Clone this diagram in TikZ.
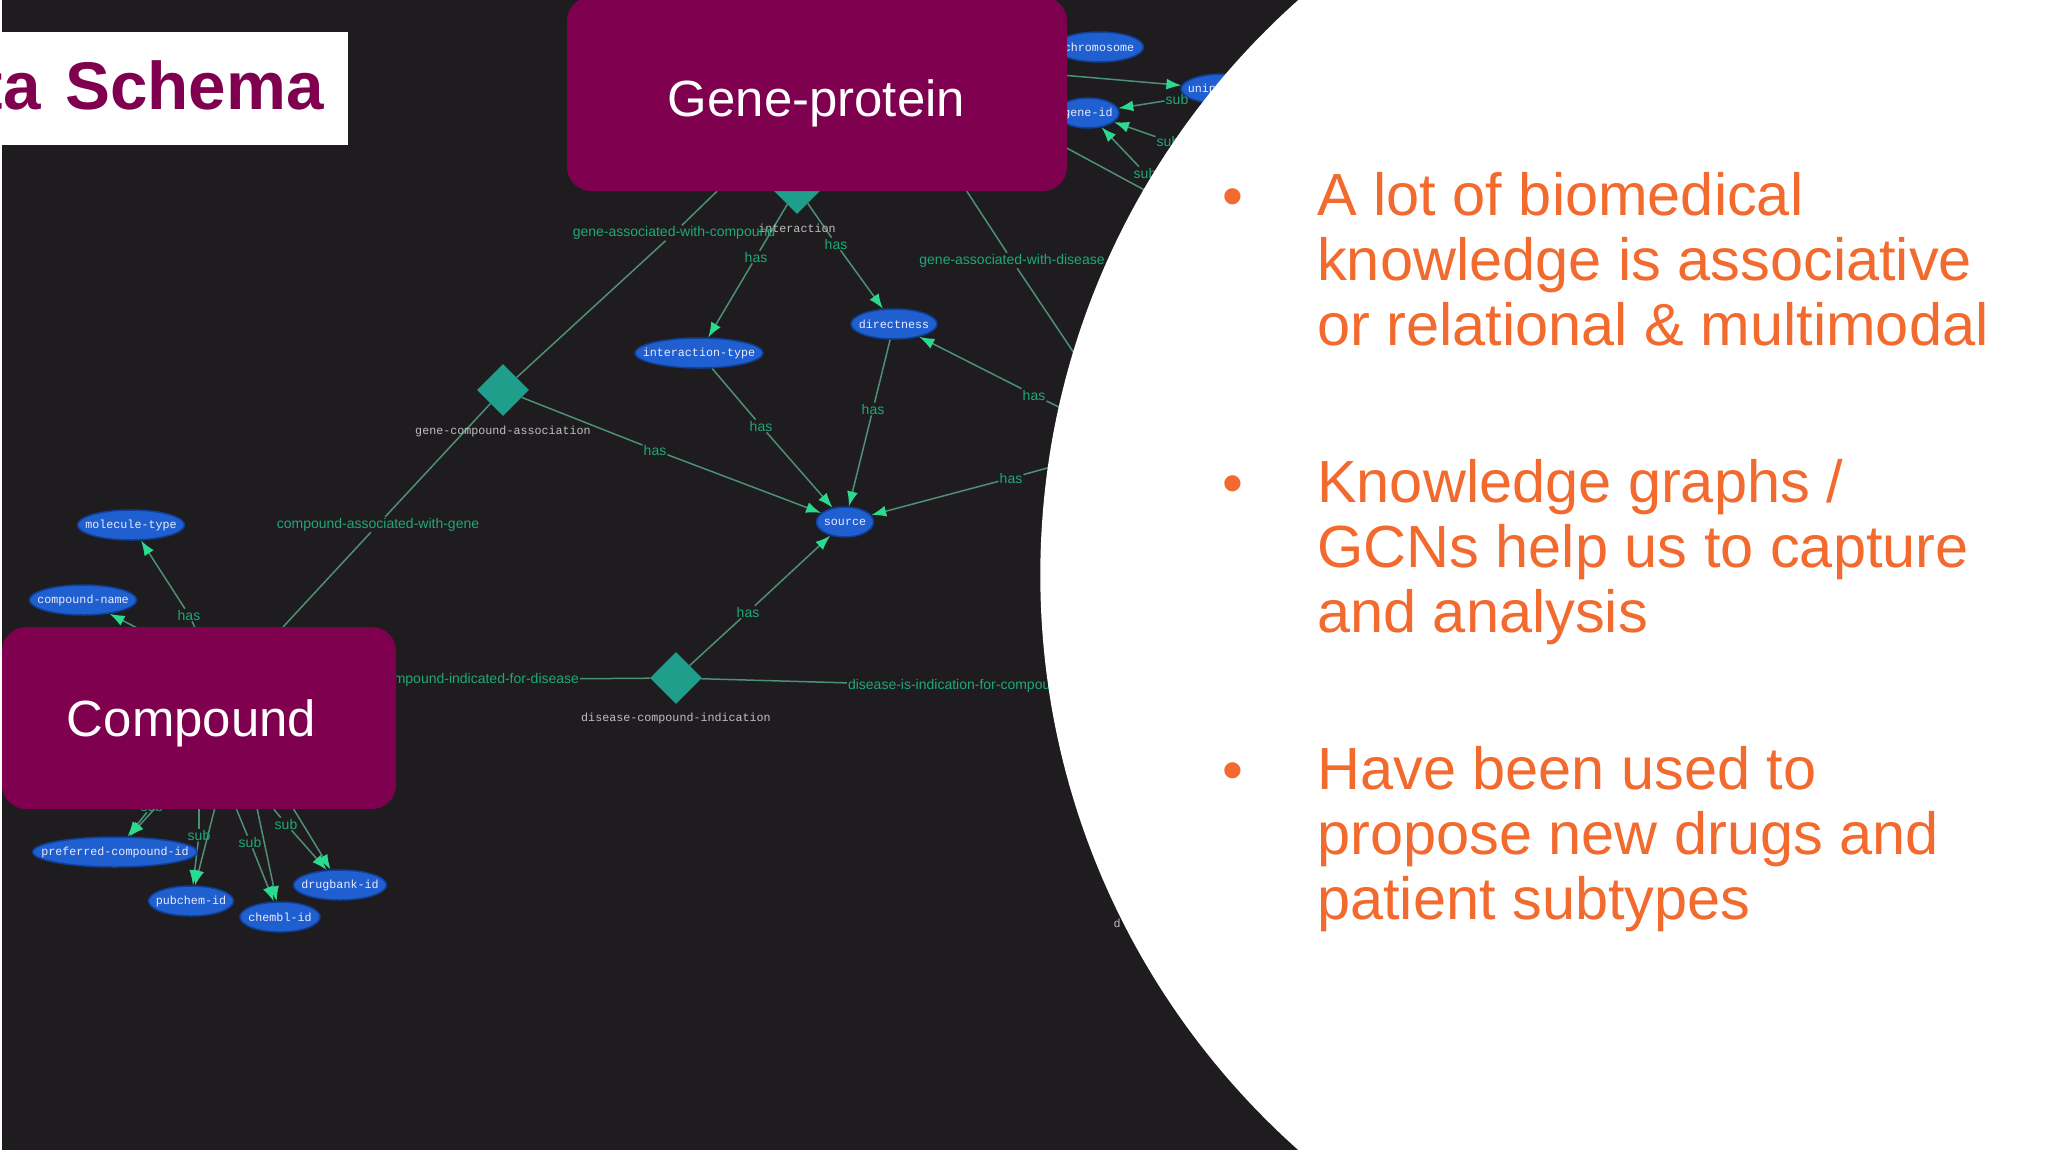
\documentclass[tikz,border=0pt]{standalone}
\usepackage{fontspec}
\setmainfont{Liberation Sans}
\setmonofont{Liberation Mono}
\usetikzlibrary{shapes.geometric,arrows.meta,backgrounds}
\definecolor{slate}{HTML}{1E1C1F}
\definecolor{maroon}{HTML}{7F004F}
\definecolor{oval}{HTML}{1F5FCF}
\definecolor{ovalrim}{HTML}{0F3F96}
\definecolor{teal}{HTML}{1F9E8C}
\definecolor{wire}{HTML}{4E8F77}
\definecolor{tipgreen}{HTML}{2BD98F}
\definecolor{tagtext}{HTML}{1FA878}
\definecolor{orangetext}{HTML}{F26A2E}
\newcommand{\ovaltext}[1]{\makebox[0pt]{#1}}

\begin{document}
\begin{tikzpicture} [x=1pt, y=-1pt,
	attr/.style={ellipse, draw=ovalrim, line width=1.5pt, fill=oval, text=blue!8, inner sep=0pt,
		minimum height=30pt, font=\ttfamily\fontsize{11.7}{12}\selectfont},
	rel/.style={diamond, fill=teal, inner sep=0pt, minimum width=52pt, minimum height=52pt},
	relname/.style={text=white!75!black, inner sep=0pt, font=\ttfamily\fontsize{11.7}{12}\selectfont},
	tag/.style={text=tagtext, inner sep=1pt, font=\fontsize{14}{15}\selectfont},
	entity/.style={rectangle, rounded corners=24pt, fill=maroon, inner sep=0pt},
	entityname/.style={text=white, inner sep=0pt, font=\fontsize{50.9}{55}\selectfont},
	linkline/.style={draw=wire, line width=1.5pt},
	linkarrow/.style={linkline, -{Latex[length=15pt,width=11pt,color=tipgreen]}},
	point/.style={anchor=base west, text=orangetext, inner sep=0pt, align=left,
		font=\fontsize{59.5}{64.7}\selectfont}]
	\useasboundingbox (0,0) rectangle (2048,1152);

	\node[attr, minimum width=107pt] (moltype) at (131,525) {\ovaltext{molecule-type}};
	\node[attr, minimum width=107pt] (cmpname) at (83,600) {\ovaltext{compound-name}};
	\node[attr, minimum width=165pt] (prefid) at (115,852) {\ovaltext{preferred-compound-id}};
	\node[attr, minimum width=85pt] (pubid) at (191,901) {\ovaltext{pubchem-id}};
	\node[attr, minimum width=80pt] (chemblid) at (280,917) {\ovaltext{chembl-id}};
	\node[attr, minimum width=93pt] (drugid) at (340,885) {\ovaltext{drugbank-id}};
	\node[attr, minimum width=128pt] (itype) at (699,353) {\ovaltext{interaction-type}};
	\node[attr, minimum width=86pt] (direct) at (894,324) {\ovaltext{directness}};
	\node[attr, minimum width=57pt] (source) at (845,522) {\ovaltext{source}};
	\node[attr, minimum width=89pt] (chromo) at (1099,47) {\ovaltext{chromosome}};
	\node[attr, minimum width=62pt] (geneid) at (1088,113) {\ovaltext{gene-id}};
	\node[attr, minimum width=84pt] (uniprot) at (1223,89) {\ovaltext{uniprot-id}};

	\node[rel] (gcassoc) at (503,390) {};
	\node[rel] (dcind) at (676,678) {};
	\node[rel] (inter) at (797,188) {};
	\node[relname] at (503,431) {gene-compound-association};
	\node[relname] at (676,718) {disease-compound-indication};
	\node[relname] at (797,228) {interaction};
	\node[relname] at (1117,923) {d};

	\node[tag] (gacomp) at (674,233) {gene-associated-with-compound};
	\node[tag] (gadis) at (1012,260.5) {gene-associated-with-disease};
	\node[tag] (cagene) at (378,524.5) {compound-associated-with-gene};
	\node[tag] (cidis) at (479,679.5) {compound-indicated-for-disease};
	\node[tag] (diind) at (957,686) {disease-is-indication-for-compound};

	\node[tag] (has1) at (189,615) {has};
	\node[tag] (has2) at (756,257) {has};
	\node[tag] (has3) at (836,244) {has};
	\node[tag] (has4) at (655,450) {has};
	\node[tag] (has5) at (761,426) {has};
	\node[tag] (has6) at (873,409) {has};
	\node[tag] (has7) at (1034,395) {has};
	\node[tag] (has8) at (1011,478) {has};
	\node[tag] (has9) at (748,612) {has};
	\node[tag] (sub1) at (152,806) {sub};
	\node[tag] (sub2) at (199,835) {sub};
	\node[tag] (sub3) at (250,842) {sub};
	\node[tag] (sub4) at (286,824) {sub};
	\node[tag] (sub5) at (1177,99) {sub};
	\node[tag] (sub6) at (1168,141) {sub};
	\node[tag] (sub7) at (1145,173) {sub};

	\node[entity, minimum width=500pt, minimum height=194pt] (gene) at (817,94) {};
	\node[entity, minimum width=394pt, minimum height=182pt] (compound) at (199,718) {};
	\node[entityname] (genename) at (816.5,103) {Gene-protein};
	\node[entityname] (compoundname) at (191.5,723) {Compound};

	\coordinate (cmpb) at (238,718);
	\coordinate (cmpc) at (172,646);
	\coordinate (cmpd) at (300,678);
	\coordinate (geneb) at (906,98);
	\coordinate (geneu) at (900,61);
	\coordinate (genes) at (950,85);
	\coordinate (disa) at (1200,426);
	\coordinate (disb) at (1200,475);
	\coordinate (disc) at (1300,274);
	\coordinate (disd) at (1200,541);

	\begin{scope}[on background layer]
		\fill[slate] (2,0) rectangle (1400,1150);

		\draw[linkline] (gene) -- (gacomp);
		\draw[linkline] (gacomp) -- (gcassoc);
		\draw[linkline] (gcassoc) -- (cagene);
		\draw[linkline] (cagene) -- (compound);
		\draw[linkline] (cmpd) -- (cidis);
		\draw[linkline] (cidis) -- (dcind);
		\draw[linkline] (dcind) -- (diind);
		\draw[linkline] (geneb) -- (gadis);
		\draw[linkline] (gadis) -- (disd);
		\draw[linkline] (genes) -- (disc);
		\draw[linkarrow] (geneu) -- (uniprot);

		\draw[linkline] (inter) -- (has2);
		\draw[linkarrow] (has2) -- (itype);
		\draw[linkline] (inter) -- (has3);
		\draw[linkarrow] (has3) -- (direct);
		\draw[linkline] (gcassoc) -- (has4);
		\draw[linkarrow] (has4) -- (source);
		\draw[linkline] (itype) -- (has5);
		\draw[linkarrow] (has5) -- (source);
		\draw[linkline] (direct) -- (has6);
		\draw[linkarrow] (has6) -- (source);
		\draw[linkline] (dcind) -- (has9);
		\draw[linkarrow] (has9) -- (source);
		\draw[linkline] (disb) -- (has7);
		\draw[linkarrow] (has7) -- (direct);
		\draw[linkline] (disa) -- (has8);
		\draw[linkarrow] (has8) -- (source);

		\draw[linkline] (cmpb) -- (has1);
		\draw[linkarrow] (has1) -- (moltype);
		\draw[linkarrow] (cmpc) -- (cmpname);
		\draw[linkline] (compound) -- (sub1);
		\draw[linkarrow] (sub1) -- (prefid);
		\draw[linkline] (compound) -- (sub2);
		\draw[linkarrow] (sub2) -- (pubid);
		\draw[linkline] (compound) -- (sub3);
		\draw[linkarrow] (sub3) -- (chemblid);
		\draw[linkline] (compound) -- (sub4);
		\draw[linkarrow] (sub4) -- (drugid);
		\draw[linkarrow] (cmpb) -- (prefid);
		\draw[linkarrow] (cmpb) -- (pubid);
		\draw[linkarrow] (cmpb) -- (chemblid);
		\draw[linkarrow] (cmpb) -- (drugid);

		\draw[linkarrow] (sub5) -- (geneid);
		\draw[linkarrow] (sub6) -- (geneid);
		\draw[linkarrow] (sub7) -- (geneid);
	\end{scope}

	\fill[white] (1810,575) circle (769.7);

	\node[fill=white, minimum width=346pt, minimum height=113pt, inner sep=0pt] (titlebox) at (175,88) {};
	\node[anchor=base east, text=maroon, inner sep=0pt, font=\bfseries\fontsize{67.4}{70}\selectfont] (title) at (324,109) {ta\hspace{6pt} Schema};

	\node[point] (dot1) at (1222,216) {•};
	\node[point] (text1) at (1317,345) {A lot of biomedical\\knowledge is associative\\or relational \& multimodal};
	\node[point] (dot2) at (1222,503) {•};
	\node[point] (text2) at (1317,632) {Knowledge graphs /\\GCNs help us to capture\\and analysis};
	\node[point] (dot3) at (1222,790) {•};
	\node[point] (text3) at (1317,919) {Have been used to\\propose new drugs and\\patient subtypes};
\end{tikzpicture}
\end{document}
